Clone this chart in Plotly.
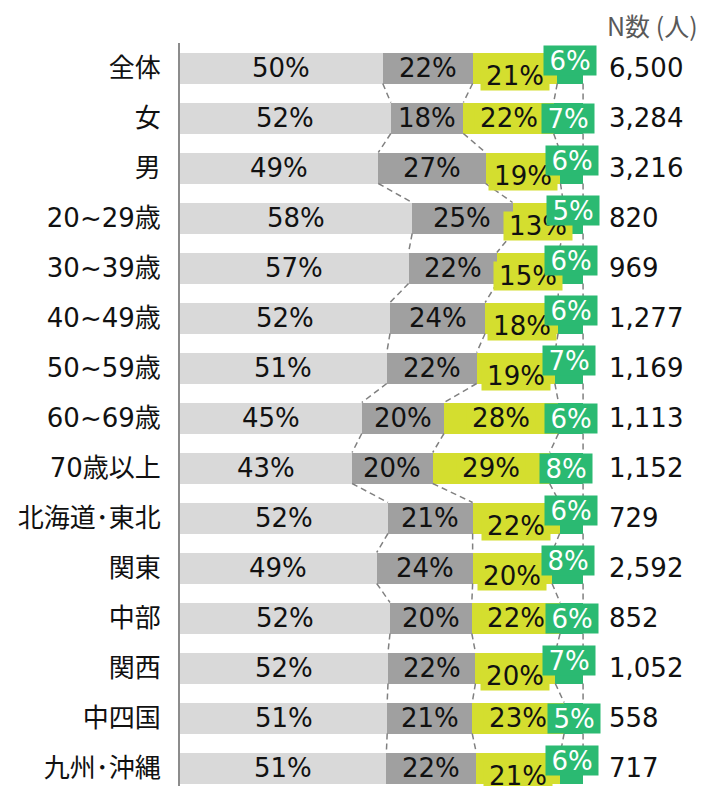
import plotly.graph_objects as go

categories = ["全体", "女", "男", "20~29歳", "30~39歳", "40~49歳", "50~59歳",
              "60~69歳", "70歳以上", "北海道･東北", "関東", "中部", "関西", "中四国", "九州･沖縄"]
light_vals = [50.3, 52.3, 49.2, 57.6, 56.7, 52.1, 51.3, 45.1, 42.7, 51.6, 48.8, 52.1, 51.6, 51.4, 51.2]
dark_vals = [22.3, 18.0, 26.6, 24.9, 21.9, 23.6, 22.3, 20.4, 20.0, 21.0, 23.8, 20.3, 21.7, 21.1, 22.3]
yellow_vals = [21.0, 22.4, 18.6, 12.6, 15.3, 18.1, 19.4, 28.4, 29.0, 21.6, 19.7, 21.9, 19.8, 22.8, 20.9]
green_vals = [6.4, 7.3, 5.6, 4.9, 6.1, 6.2, 7.0, 6.1, 8.3, 5.8, 7.7, 5.7, 6.9, 4.7, 5.6]
n_counts = [6500, 3284, 3216, 820, 969, 1277, 1169, 1113, 1152, 729, 2592, 852, 1052, 558, 717]
n_header = "N数 (人)"

# label staggering (style): 1 = yellow label pushed down, green label pushed up
staggered = [1, 0, 1, 1, 1, 1, 1, 0, 0, 1, 1, 0, 1, 0, 1]

C_LIGHT = "#D9D9D9"
C_DARK = "#A0A0A0"
C_YEL = "#D4DE2F"
C_GRN = "#2BBA72"
FONT = "DejaVu Sans, Noto Sans CJK JP"
FS = 26
BW = 0.62

idx = list(range(len(categories)))
series = [light_vals, dark_vals, yellow_vals, green_vals]
colors = [C_LIGHT, C_DARK, C_YEL, C_GRN]

fig = go.Figure()
for vals, col in zip(series, colors):
    fig.add_trace(go.Bar(x=vals, y=idx, orientation="h", width=BW,
                         marker=dict(color=col, line=dict(width=0)),
                         hoverinfo="skip", showlegend=False))

# cumulative boundaries
cums = []
run = [0.0] * len(idx)
for vals in series:
    run = [r + v for r, v in zip(run, vals)]
    cums.append(run[:])

# connector dashed lines
for cum in cums:
    xs, ys = [], []
    for i in range(len(idx) - 1):
        xs += [cum[i], cum[i + 1], None]
        ys += [i + BW / 2, i + 1 - BW / 2, None]
    fig.add_trace(go.Scatter(x=xs, y=ys, mode="lines",
                             line=dict(color="#808080", width=1.5, dash="6px,4px"),
                             hoverinfo="skip", showlegend=False))

ann = []
starts = [[0.0] * len(idx)] + cums[:-1]
# light and dark labels
for s in range(2):
    for i in idx:
        v = series[s][i]
        ann.append(dict(x=starts[s][i] + v / 2, y=i, xref="x", yref="y",
                        text=f"{round(v)}%", showarrow=False,
                        font=dict(family=FONT, size=FS, color="#111111")))
# yellow labels
for i in idx:
    v = yellow_vals[i]
    ann.append(dict(x=starts[2][i] + v / 2, y=i, xref="x", yref="y",
                    text=f"{round(v)}%", showarrow=False,
                    yshift=-8 if staggered[i] else 0,
                    bgcolor=C_YEL, width=68, height=28, borderpad=0,
                    font=dict(family=FONT, size=FS, color="#111111")))
# green labels
for i in idx:
    v = green_vals[i]
    ann.append(dict(x=starts[3][i] + v / 2, y=i, xref="x", yref="y",
                    text=f"{round(v)}%", showarrow=False,
                    yshift=8 if staggered[i] else 0,
                    bgcolor=C_GRN, width=52, height=29, borderpad=0,
                    font=dict(family=FONT, size=FS, color="#FFFFFF")))
# N counts
for i in idx:
    ann.append(dict(x=106, y=i, xref="x", yref="y", text=f"{n_counts[i]:,}",
                    showarrow=False, xanchor="left",
                    font=dict(family=FONT, size=FS, color="#111111")))
ann.append(dict(x=0.9886, y=1.0242, xref="paper", yref="paper", text=n_header,
                showarrow=False, xanchor="right", yanchor="middle",
                font=dict(family="Noto Sans CJK JP", size=25, color="#595959")))

fig.update_layout(
    width=698, height=778,
    margin=dict(l=172, r=0, t=35, b=0),
    barmode="stack",
    plot_bgcolor="white", paper_bgcolor="white",
    annotations=ann,
    xaxis=dict(range=[0, 130.5], visible=False, fixedrange=True),
    yaxis=dict(range=[14.36, -0.5], tickmode="array", tickvals=idx, ticktext=categories,
               showline=True, linecolor="#8C8C8C", linewidth=2, ticks="",
               showgrid=False, zeroline=False, ticklabelstandoff=12,
               tickfont=dict(family=FONT, size=FS, color="#111111")),
)

fig.write_html("out.html")
